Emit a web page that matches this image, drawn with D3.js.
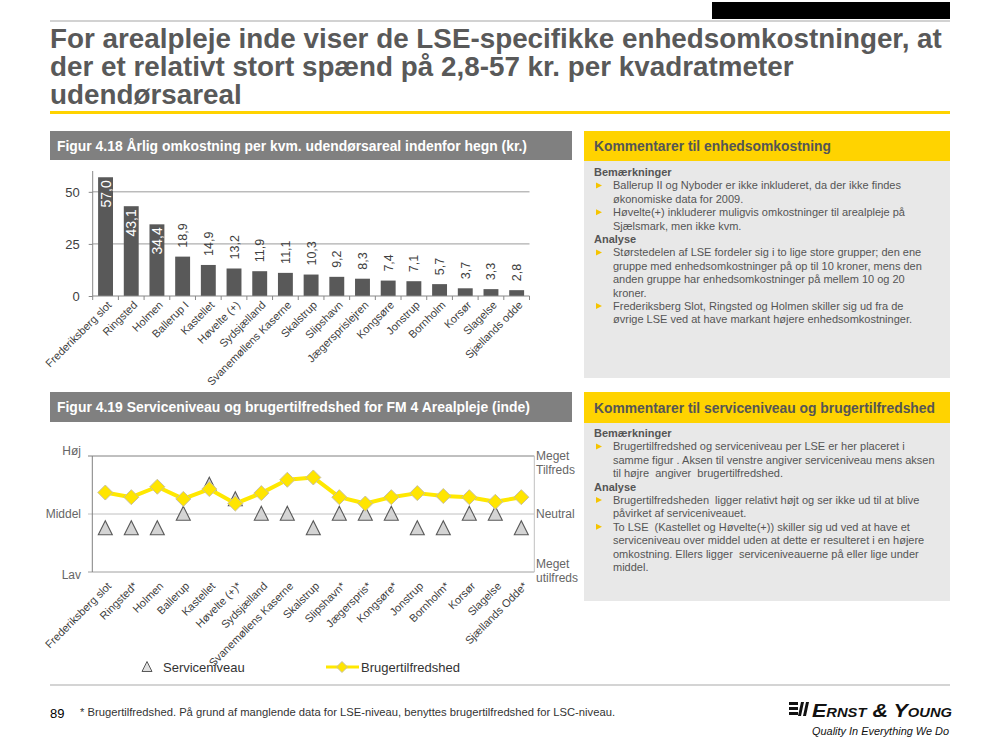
<!DOCTYPE html>
<html>
<head>
<meta charset="utf-8">
<script src="https://cdnjs.cloudflare.com/ajax/libs/d3/7.8.5/d3.min.js"></script>
<style>
  html, body { margin: 0; padding: 0; background: #fff; }
  svg { display: block; font-family: "Liberation Sans", Arial, sans-serif; }
</style>
</head>
<body>
<svg id="chart" width="1000" height="750"></svg>
<script>
// ---------------- DATA ----------------
const titleLines = [
  "For arealpleje inde viser de LSE-specifikke enhedsomkostninger, at",
  "der et relativt stort spænd på 2,8-57 kr. per kvadratmeter",
  "udendørsareal"
];
const fig1Title = "Figur 4.18 Årlig omkostning per kvm. udendørsareal indenfor hegn (kr.)";
const fig2Title = "Figur 4.19 Serviceniveau og brugertilfredshed for FM 4 Arealpleje (inde)";

const costCategories = ["Frederiksberg slot","Ringsted","Holmen","Ballerup I","Kastellet","Høvelte (+)","Sydsjælland","Svanemøllens Kaserne","Skalstrup","Slipshavn","Jægersprislejren","Kongsøre","Jonstrup","Bornholm","Korsør","Slagelse","Sjællands odde"];
const costValues = [57.0, 43.1, 34.4, 18.9, 14.9, 13.2, 11.9, 11.1, 10.3, 9.2, 8.3, 7.4, 7.1, 5.7, 3.7, 3.3, 2.8];
const costTicks = [0, 25, 50];

const lseCategories = ["Frederiksberg slot","Ringsted*","Holmen","Ballerup","Kastellet","Høvelte (+)*","Sydsjælland","Svanemøllens Kaserne","Skalstrup","Slipshavn*","Jægerspris*","Kongsøre*","Jonstrup","Bornholm*","Korsør","Slagelse","Sjællands Odde*"];
// 1 = Lav, 2 = Middel, 3 = Høj
const serviceLevel = [1.75, 1.75, 1.75, 2.0, 2.5, 2.25, 2.0, 2.0, 1.75, 2.0, 2.0, 2.0, 1.75, 1.75, 2.0, 2.0, 1.75];
// 1 = Meget utilfreds, 2 = Neutral, 3 = Meget tilfreds
const satisfaction = [2.37, 2.29, 2.47, 2.26, 2.43, 2.18, 2.36, 2.59, 2.63, 2.29, 2.18, 2.29, 2.36, 2.31, 2.29, 2.21, 2.29];
const leftTicks = [{v:3, t:"Høj"}, {v:2, t:"Middel"}, {v:1, t:"Lav"}];
const rightTicks = [{v:3, t:["Meget","Tilfreds"]}, {v:2, t:["Neutral"]}, {v:1, t:["Meget","utilfreds"]}];
const legendLabels = ["Serviceniveau", "Brugertilfredshed"];

const panel1Title = "Kommentarer til enhedsomkostning";
const panel1Lines = [
  {b:true, t:"Bemærkninger"},
  {bullet:true, t:"Ballerup II og Nyboder er ikke inkluderet, da der ikke findes"},
  {t:"økonomiske data for 2009."},
  {bullet:true, t:"Høvelte(+) inkluderer muligvis omkostninger til arealpleje på"},
  {t:"Sjælsmark, men ikke kvm."},
  {b:true, t:"Analyse"},
  {bullet:true, t:"Størstedelen af LSE fordeler sig i to lige store grupper; den ene"},
  {t:"gruppe med enhedsomkostninger på op til 10 kroner, mens den"},
  {t:"anden gruppe har enhedsomkostninger på mellem 10 og 20"},
  {t:"kroner."},
  {bullet:true, t:"Frederiksberg Slot, Ringsted og Holmen skiller sig ud fra de"},
  {t:"øvrige LSE ved at have markant højere enhedsomkostninger."}
];
const panel2Title = "Kommentarer til serviceniveau og brugertilfredshed";
const panel2Lines = [
  {b:true, t:"Bemærkninger"},
  {bullet:true, t:"Brugertilfredshed og serviceniveau per LSE er her placeret i"},
  {t:"samme figur . Aksen til venstre angiver serviceniveau mens aksen"},
  {t:"til højre  angiver  brugertilfredshed."},
  {b:true, t:"Analyse"},
  {bullet:true, t:"Brugertilfredsheden  ligger relativt højt og ser ikke ud til at blive"},
  {t:"påvirket af serviceniveauet."},
  {bullet:true, t:"To LSE  (Kastellet og Høvelte(+)) skiller sig ud ved at have et"},
  {t:"serviceniveau over middel uden at dette er resulteret i en højere"},
  {t:"omkostning. Ellers ligger  serviceniveauerne på eller lige under"},
  {t:"middel."}
];
const pageNumber = "89";
const footnote = "* Brugertilfredshed. På grund af manglende data for LSE-niveau, benyttes brugertilfredshed for LSC-niveau.";
const logoText = "Ernst & Young";
const logoTagline = "Quality In Everything We Do";

// ---------------- DRAW ----------------
const svg = d3.select("#chart");
const YELLOW = "#FFD300";
const fmt = v => d3.format(".1f")(v).replace(".", ",");

// Top decorations
svg.append("rect").attr("x", 712).attr("y", 2).attr("width", 238).attr("height", 17).attr("fill", "#000");
svg.append("line").attr("x1", 50).attr("x2", 950).attr("y1", 21).attr("y2", 21).attr("stroke", "#a6a6a6").attr("stroke-width", 1.2);
svg.append("line").attr("x1", 50).attr("x2", 950).attr("y1", 112.5).attr("y2", 112.5).attr("stroke", YELLOW).attr("stroke-width", 3);

// Title
const tg = svg.append("g");
const tl = tg.selectAll("text").data(titleLines).join("text")
  .attr("x", 0).attr("y", (d, i) => 48 + i * 28)
  .attr("font-size", 27).attr("font-weight", "bold").attr("fill", "#595959")
  .text(d => d);
const w1 = tl.node().getComputedTextLength();
const k = 892 / w1;
tg.attr("transform", `translate(50,0) scale(${k},1)`);

// Header helper
function header(x, y, w, h, fill, txt, color, size, fitW) {
  svg.append("rect").attr("x", x).attr("y", y).attr("width", w).attr("height", h).attr("fill", fill);
  const t = svg.append("text").attr("x", x + (fill === YELLOW ? 10 : 7)).attr("y", y + h / 2 + size * 0.36)
    .attr("font-size", size).attr("font-weight", "bold").attr("fill", color).text(txt);
  if (fitW) t.attr("textLength", fitW).attr("lengthAdjust", "spacingAndGlyphs");
}

header(50, 131, 522, 29, "#808080", fig1Title, "#fff", 14.5, 470);
header(50, 392, 522, 30, "#808080", fig2Title, "#fff", 14.5, 473);

// ---------------- Bar chart ----------------
const xB = d3.scaleBand().domain(costCategories).range([92.7, 529.5]).paddingInner(0.42).paddingOuter(0.21);
const yB = d3.scaleLinear().domain([0, 60]).range([296, 171]);
const gB = svg.append("g");
const xStep = xB.step();

// gridlines
gB.selectAll(".grid").data(costTicks.filter(d => d > 0)).join("line")
  .attr("x1", 92.7).attr("x2", 529.5).attr("y1", d => yB(d)).attr("y2", d => yB(d))
  .attr("stroke", "#9a9a9a").attr("stroke-width", 1);

// bars
gB.selectAll("rect.bar").data(costValues).join("rect").attr("class", "bar")
  .attr("x", (d, i) => xB(costCategories[i])).attr("width", xB.bandwidth())
  .attr("y", d => yB(d)).attr("height", d => yB(0) - yB(d))
  .attr("fill", "#595959");

// y axis
const yAxisB = d3.axisLeft(yB).tickValues(costTicks).tickSize(4).tickFormat(d3.format("d"));
const ya = gB.append("g").attr("transform", "translate(92.7,0)").call(yAxisB);
ya.select(".domain").attr("stroke", "#888").attr("d", `M-0,${yB(60)}V${yB(0)}`);
ya.selectAll(".tick line").attr("stroke", "#888");
ya.selectAll(".tick text").attr("font-size", 13).attr("fill", "#404040").attr("font-family", "Liberation Sans, Arial").attr("dx", -6);

// x axis baseline + ticks at band boundaries
gB.append("line").attr("x1", 92.7).attr("x2", 529.5).attr("y1", yB(0)).attr("y2", yB(0)).attr("stroke", "#888");
const bounds = d3.range(costCategories.length + 1).map(i => 92.7 + i * xStep);
gB.selectAll(".xt").data(bounds).join("line")
  .attr("x1", d => d).attr("x2", d => d).attr("y1", yB(0)).attr("y2", yB(0) + 4).attr("stroke", "#888");

// x labels
gB.selectAll("text.xl").data(costCategories).join("text").attr("class", "xl")
  .attr("transform", d => `translate(${xB(d) + xB.bandwidth() / 2 + 4},${yB(0) + 7}) rotate(-45)`)
  .attr("text-anchor", "end").attr("dy", "0.35em")
  .attr("font-size", 11).attr("fill", "#404040").text(d => d);

// value labels
gB.selectAll("text.vl").data(costValues).join("text").attr("class", "vl")
  .each(function (d, i) {
    const cx = xB(costCategories[i]) + xB.bandwidth() / 2;
    const inside = d > 30;
    const sel = d3.select(this);
    if (inside) {
      sel.attr("transform", `translate(${cx},${yB(d) + 3}) rotate(-90)`)
        .attr("text-anchor", "end").attr("dy", "0.36em")
        .attr("font-size", 14).attr("fill", "#fff");
    } else {
      sel.attr("transform", `translate(${cx},${yB(d) - 9}) rotate(-90)`)
        .attr("text-anchor", "start").attr("dy", "0.36em")
        .attr("font-size", 12.5).attr("fill", "#404040");
    }
    sel.text(fmt(d));
  });

// ---------------- Line chart ----------------
const xL = d3.scaleBand().domain(lseCategories).range([92.3, 534.3]);
const yL = d3.scaleLinear().domain([1, 3]).range([572, 456]);
const gL = svg.append("g");
const cxL = d => xL(d) + xL.bandwidth() / 2;

const gridColors = {3: "#808080", 2: "#c0c0c0", 1: "#a0a0a0"};
gL.selectAll(".hl").data(leftTicks).join("line")
  .attr("x1", 88).attr("x2", 534.3).attr("y1", d => yL(d.v)).attr("y2", d => yL(d.v))
  .attr("stroke", d => gridColors[d.v]).attr("stroke-width", 1);
gL.append("line").attr("x1", 92.3).attr("x2", 92.3).attr("y1", yL(3)).attr("y2", yL(1)).attr("stroke", "#808080");
gL.append("line").attr("x1", 534.3).attr("x2", 534.3).attr("y1", yL(3)).attr("y2", yL(1)).attr("stroke", "#c0c0c0");

// left labels
gL.selectAll(".ll").data(leftTicks).join("text")
  .attr("x", 81).attr("y", d => yL(d.v) + (d.v === 3 ? -1 : d.v === 1 ? 7 : 4))
  .attr("text-anchor", "end").attr("font-size", 12).attr("fill", "#666").text(d => d.t);
// right labels
rightTicks.forEach(d => {
  const t = gL.append("text").attr("x", 536).attr("font-size", 12).attr("fill", "#666");
  const base = d.v === 3 ? yL(d.v) + 4 : d.v === 2 ? yL(d.v) + 4 : yL(d.v) - 4;
  d.t.forEach((s, i) => t.append("tspan").attr("x", 536).attr("y", base + i * 13.5).text(s));
});

// triangles (service level)
const triPath = (s) => `M0,${-s * 0.55}L${s / 2},${s * 0.45}L${-s / 2},${s * 0.45}Z`;
gL.selectAll("path.tri").data(serviceLevel).join("path").attr("class", "tri")
  .attr("transform", (d, i) => `translate(${cxL(lseCategories[i])},${yL(d)})`)
  .attr("d", triPath(14)).attr("fill", "#d4d4d4").attr("stroke", "#595959").attr("stroke-width", 1.1);

// satisfaction line
const line = d3.line().x((d, i) => cxL(lseCategories[i])).y(d => yL(d));
gL.append("path").datum(satisfaction).attr("d", line).attr("fill", "none")
  .attr("stroke", "#FFE800").attr("stroke-width", 4).attr("stroke-linejoin", "round");
const diamond = s => `M0,${-s}L${s},0L0,${s}L${-s},0Z`;
gL.selectAll("path.dia").data(satisfaction).join("path").attr("class", "dia")
  .attr("transform", (d, i) => `translate(${cxL(lseCategories[i])},${yL(d)})`)
  .attr("d", diamond(7.5)).attr("fill", "#FFE500").attr("stroke", "#c8c0a0").attr("stroke-width", 1);

// x labels
gL.selectAll("text.xl2").data(lseCategories).join("text").attr("class", "xl2")
  .attr("transform", d => `translate(${cxL(d) + 4},${yL(1) + 12}) rotate(-45)`)
  .attr("text-anchor", "end").attr("dy", "0.35em")
  .attr("font-size", 11).attr("fill", "#404040").text(d => d);

// legend
gL.append("path").attr("transform", "translate(147,667)").attr("d", triPath(10))
  .attr("fill", "#e0e0e0").attr("stroke", "#595959").attr("stroke-width", 1);
gL.append("text").attr("x", 163).attr("y", 672).attr("font-size", 13).attr("fill", "#333").text(legendLabels[0]);
gL.append("line").attr("x1", 326).attr("x2", 359).attr("y1", 667).attr("y2", 667).attr("stroke", "#FFE800").attr("stroke-width", 3);
gL.append("path").attr("transform", "translate(342,667)").attr("d", diamond(5.5))
  .attr("fill", "#FFE500").attr("stroke", "#c8c0a0").attr("stroke-width", 1);
gL.append("text").attr("x", 361).attr("y", 672).attr("font-size", 13).attr("fill", "#333").text(legendLabels[1]);

// ---------------- Comment panels ----------------
function panel(y0, hHead, hBody, title, lines, firstBase, titleW) {
  svg.append("rect").attr("x", 584).attr("y", y0 + hHead).attr("width", 366).attr("height", hBody).attr("fill", "#e8e8e8");
  header(584, y0, 366, hHead, YELLOW, title, "#555", 14, titleW);
  lines.forEach((l, i) => {
    const y = firstBase + i * 13.4;
    if (l.bullet) {
      svg.append("path").attr("d", `M596,${y - 7}L602,${y - 4}L596,${y - 1}Z`).attr("fill", "#F5C400");
    }
    svg.append("text").attr("x", l.b ? 594 : 613).attr("y", y)
      .attr("font-size", 11).attr("font-weight", l.b ? "bold" : "normal").attr("fill", "#555")
      .attr("xml:space", "preserve").style("white-space", "pre").text(l.t);
  });
}
panel(131, 30, 217, panel1Title, panel1Lines, 176, 237);
panel(392, 31, 178, panel2Title, panel2Lines, 437, 341);

// ---------------- Footer ----------------
svg.append("line").attr("x1", 50).attr("x2", 950).attr("y1", 685).attr("y2", 685).attr("stroke", "#aaa").attr("stroke-width", 1.2);
svg.append("text").attr("x", 50).attr("y", 718).attr("font-size", 13).attr("fill", "#000").text(pageNumber);
svg.append("text").attr("x", 80).attr("y", 716).attr("font-size", 10.5).attr("fill", "#333")
  .attr("textLength", 535).attr("lengthAdjust", "spacingAndGlyphs").text(footnote);

// logo
const lg = svg.append("g");
[0, 5, 10].forEach(dy => lg.append("rect").attr("x", 789).attr("y", 702 + dy).attr("width", 9).attr("height", 3).attr("fill", "#111"));
lg.append("path").attr("d", "M801,702 L804,702 L801,716 L798,716Z").attr("fill", "#111");
lg.append("path").attr("d", "M806,702 L809,702 L806,716 L803,716Z").attr("fill", "#111");
lg.append("text").attr("x", 812).attr("y", 717).attr("font-size", 19).attr("font-style", "italic")
  .attr("font-weight", "bold").style("font-variant", "small-caps").attr("fill", "#111")
  .attr("textLength", 140).attr("lengthAdjust", "spacingAndGlyphs").text(logoText);
lg.append("text").attr("x", 812).attr("y", 735).attr("font-size", 11).attr("font-style", "italic").attr("fill", "#111")
  .attr("textLength", 137).attr("lengthAdjust", "spacingAndGlyphs").text(logoTagline);
</script>
</body>
</html>
